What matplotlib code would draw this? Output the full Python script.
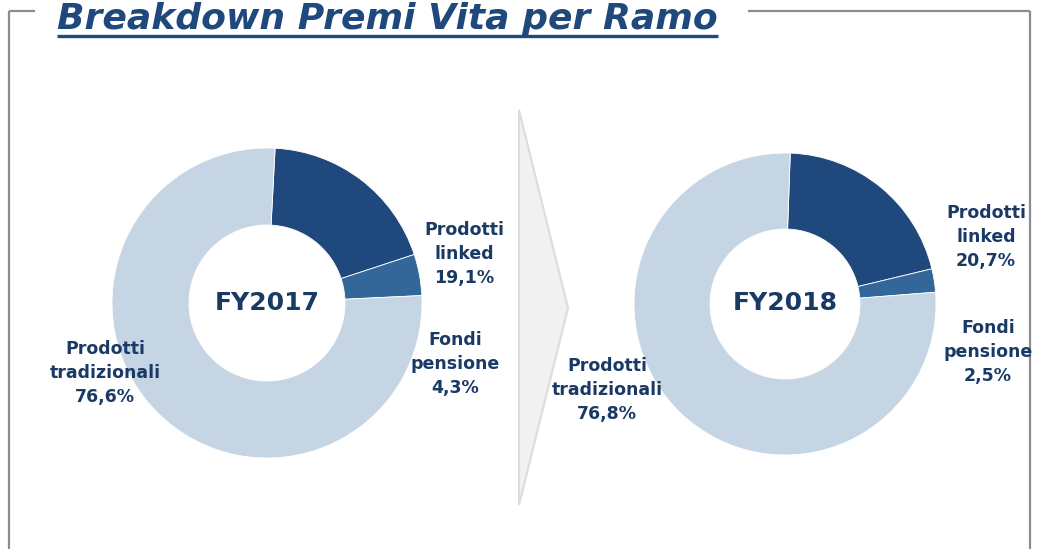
import matplotlib
matplotlib.use("Agg")
import matplotlib.pyplot as plt
from matplotlib.patches import Polygon

# data
title = "Breakdown Premi Vita per Ramo"
categories = ["Prodotti\nlinked", "Fondi\npensione", "Prodotti\ntradizionali"]
years = ["FY2017", "FY2018"]
shares_2017 = [19.1, 4.3, 76.6]
shares_2018 = [20.7, 2.5, 76.8]

W, H = 1038, 549
NAVY = "#1F497D"
MID = "#33679A"
LIGHT = "#C6D5E4"
TEXT = "#1A3A66"
FRAME = "#8C8C8C"

fig = plt.figure(figsize=(W / 100, H / 100), dpi=100)
fig.patch.set_facecolor("white")


def pct(v):
  return f"{v:.1f}%".replace(".", ",")


def donut(cx, cy, r, r_in, values, start):
  ax = fig.add_axes([(cx - r) / W, 1 - (cy + r) / H, 2 * r / W, 2 * r / H])
  ax.pie(values, colors=[NAVY, MID, LIGHT], startangle=start,
         counterclock=False, radius=1,
         wedgeprops=dict(width=1 - r_in / r, edgecolor="white", linewidth=0.6))
  ax.set_xlim(-1, 1)
  ax.set_ylim(-1, 1)
  ax.set_aspect("auto")
  ax.axis("off")
  return ax


donut(267, 303, 155, 78, shares_2017, 87)
donut(785, 304, 151, 75, shares_2018, 88)

# overlay in pixel coordinates
ov = fig.add_axes([0, 0, 1, 1])
ov.set_xlim(0, W)
ov.set_ylim(H, 0)
ov.axis("off")
ov.patch.set_visible(False)
ov.set_zorder(5)

# frame
for xs, ys in [([9, 9], [11, H]), ([9, 35], [11, 11]),
               ([748, 1030], [11, 11]), ([1030, 1030], [11, H])]:
  ov.plot(xs, ys, color=FRAME, lw=1.6, solid_capstyle="butt")

# title with underline
t = ov.text(57, 29, title, fontsize=26, fontweight="bold", style="italic",
            color=NAVY, va="baseline", ha="left")
fig.canvas.draw()
bb = t.get_window_extent().transformed(ov.transData.inverted())
ov.plot([57, max(bb.x0, bb.x1)], [36, 36], color=NAVY, lw=2.4,
        solid_capstyle="butt")

# arrow
ov.add_patch(Polygon([(519, 110), (568, 308), (519, 505)], closed=True,
                     facecolor="#F1F1F1", edgecolor="#DCDCDC", lw=1.5))

lab = dict(fontsize=12.5, fontweight="bold", color=TEXT, ha="center",
           va="center", linespacing=1.45)

# FY2017 labels
ov.text(267, 303, years[0], fontsize=18, fontweight="bold", color=TEXT,
        ha="center", va="center")
ov.text(464, 254, f"{categories[0]}\n{pct(shares_2017[0])}", **lab)
ov.text(455, 364, f"{categories[1]}\n{pct(shares_2017[1])}", **lab)
ov.text(105, 373, f"{categories[2]}\n{pct(shares_2017[2])}", **lab)

# FY2018 labels
ov.text(785, 303, years[1], fontsize=18, fontweight="bold", color=TEXT,
        ha="center", va="center")
ov.text(986, 237, f"{categories[0]}\n{pct(shares_2018[0])}", **lab)
ov.text(988, 352, f"{categories[1]}\n{pct(shares_2018[1])}", **lab)
ov.text(607, 390, f"{categories[2]}\n{pct(shares_2018[2])}", **lab)

fig.savefig("out.png", dpi=100, facecolor="white")
